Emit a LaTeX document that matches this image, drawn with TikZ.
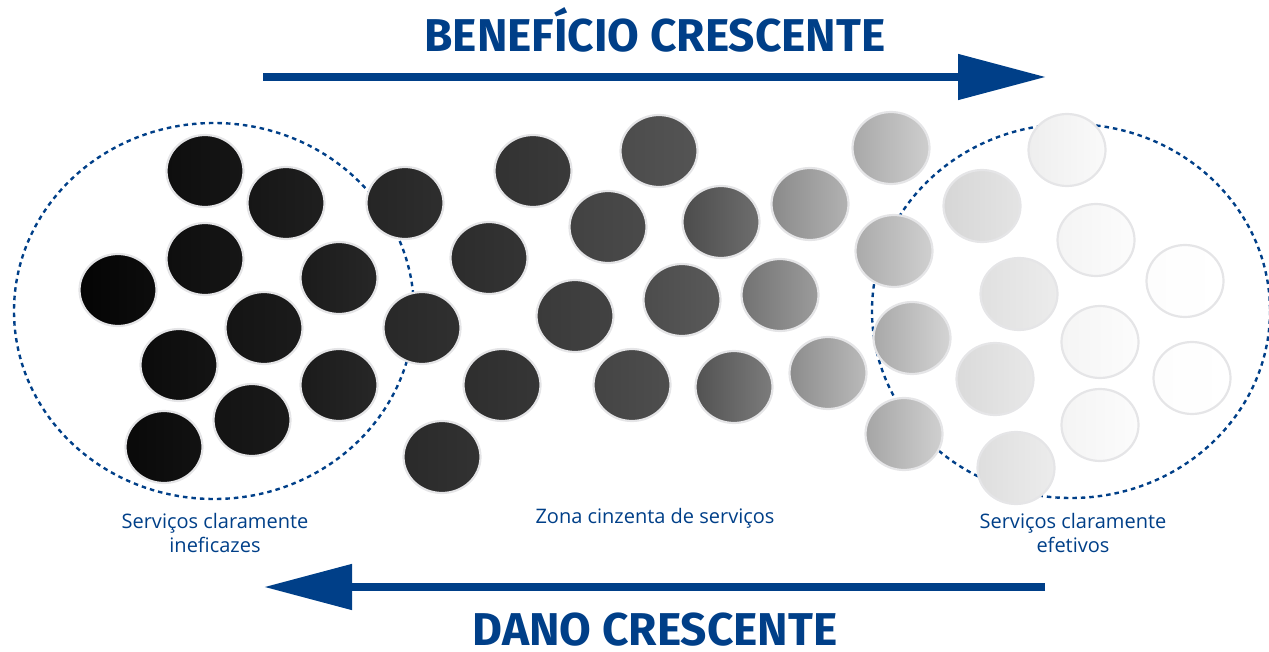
\documentclass[tikz,border=0pt]{standalone}
\usepackage{fontspec}
\usepackage{graphicx}
\setmainfont{Open Sans}
\newfontfamily\titlefont{Fira Sans}
\usetikzlibrary{shapes.geometric,arrows.meta}
\definecolor{nblue}{RGB}{0,63,136}
\definecolor{rimgray}{RGB}{229,229,231}
\tikzset{
 ball/.style={ellipse, inner sep=0pt, minimum width=77pt, minimum height=72pt, draw=rimgray, line width=2.2pt},
 zone/.style={draw=nblue, line width=2.4pt, dash pattern=on 4.5pt off 4pt},
 bigarrow/.style={draw=nblue, line width=8pt, -{Triangle[length=88pt,width=44pt]}},
 headline/.style={text=nblue, inner sep=0pt, anchor=base, font=\titlefont\bfseries\fontsize{46}{50}\selectfont},
 txtlabel/.style={text=nblue, inner sep=0pt, font=\fontsize{20}{24}\selectfont, align=center},
}
\newcommand\mkball[5]{\node[ball, left color={rgb,255:red,#4;green,#4;blue,#4}, right color={rgb,255:red,#5;green,#5;blue,#5}] (#1) at (#2,#3) {};}
\begin{document}
\begin{tikzpicture}[x=1pt,y=-1pt]
\useasboundingbox (0,0) rectangle (1269,652);
% zones
\draw[zone] (214,311) ellipse [x radius=200, y radius=188];
\draw[zone] (1071,311) ellipse [x radius=199, y radius=187];
% left cluster
\mkball{b1}{205}{171}{14}{22}
\mkball{b2}{286}{203}{22}{31}
\mkball{b3}{405}{203}{37}{46}
\mkball{b4}{205}{259}{14}{22}
\mkball{b5}{118}{290}{4}{13}
\mkball{b6}{339}{278}{27}{39}
\mkball{b7}{264}{328}{20}{27}
\mkball{b8}{422}{328}{40}{48}
\mkball{b9}{179}{365}{11}{20}
\mkball{b10}{339}{385}{27}{39}
\mkball{b11}{252}{420}{19}{26}
\mkball{b12}{164}{447}{9}{18}
\mkball{b13}{442}{457}{42}{50}
% grey zone
\mkball{b14}{489}{258}{44}{52}
\mkball{b15}{533}{171}{50}{58}
\mkball{b16}{575}{316}{58}{66}
\mkball{b17}{502}{385}{46}{54}
\mkball{b18}{659}{151}{76}{84}
\mkball{b19}{608}{227}{66}{74}
\mkball{b20}{721}{222}{76}{110}
\mkball{b21}{682}{300}{76}{90}
\mkball{b22}{632}{385}{68}{78}
\mkball{b23}{734}{387}{82}{124}
\mkball{b24}{810}{204}{138}{178}
\mkball{b25}{780}{295}{114}{156}
\mkball{b26}{828}{373}{140}{186}
% right cluster
\mkball{b27}{891}{148}{168}{206}
\mkball{b28}{894}{251}{170}{208}
\mkball{b29}{912}{338}{168}{212}
\mkball{b30}{904}{434}{165}{208}
\mkball{b31}{982}{206}{214}{228}
\mkball{b32}{1067}{150}{238}{250}
\mkball{b33}{1019}{294}{224}{236}
\mkball{b34}{1096}{240}{244}{252}
\mkball{b35}{995}{379}{218}{232}
\mkball{b36}{1100}{342}{245}{252}
\mkball{b37}{1100}{425}{244}{252}
\mkball{b38}{1016}{468}{222}{236}
\mkball{b39}{1185}{281}{253}{255}
\mkball{b40}{1192}{378}{253}{255}
% arrows
\coordinate (a1s) at (263,77);
\coordinate (a1e) at (1046,77);
\coordinate (a2s) at (1045,587);
\coordinate (a2e) at (264,587);
\draw[bigarrow] (a1s) -- (a1e);
\draw[bigarrow] (a2s) -- (a2e);
% texts
\node[headline] (t1) at (655,52) {BENEFÍCIO CRESCENTE};
\node[headline] (t2) at (655,645) {DANO CRESCENTE};
\node[txtlabel] (l1) at (215,533) {Serviços claramente\\ineficazes};
\node[txtlabel] (l2) at (655,518) {Zona cinzenta de serviços};
\node[txtlabel] (l3) at (1073,533) {Serviços claramente\\efetivos};
\end{tikzpicture}
\end{document}
